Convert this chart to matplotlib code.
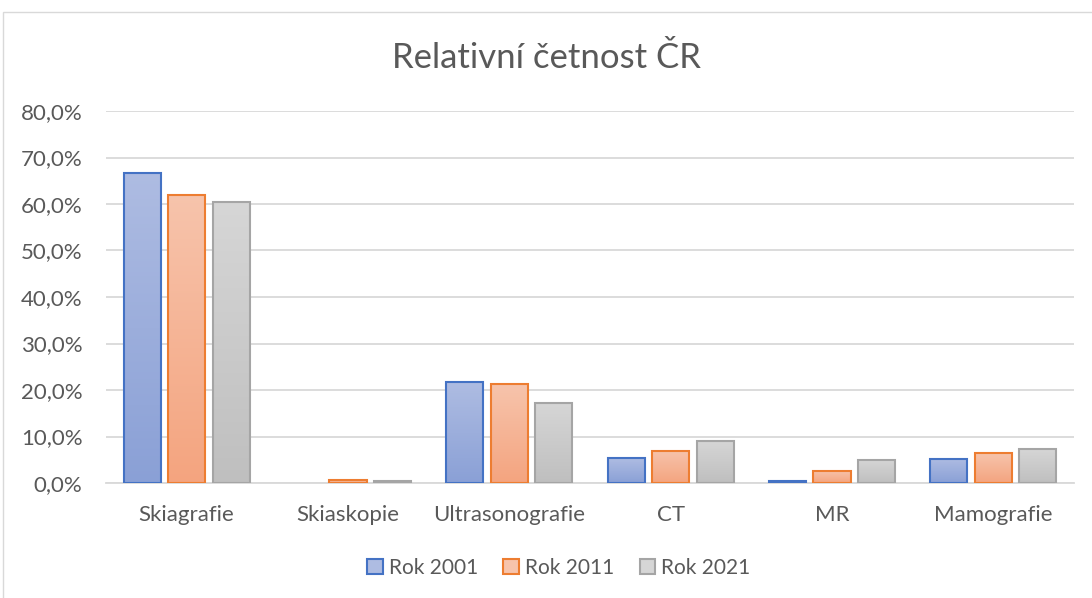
import numpy as np
import matplotlib
matplotlib.use("Agg")
import matplotlib.pyplot as plt
from matplotlib.patches import Rectangle
from matplotlib.colors import LinearSegmentedColormap
from matplotlib.ticker import FuncFormatter, MultipleLocator

categories = ["Skiagrafie", "Skiaskopie", "Ultrasonografie", "CT", "MR", "Mamografie"]
series_names = ["Rok 2001", "Rok 2011", "Rok 2021"]
rok_2001 = [66.7, 0.0, 21.7, 5.3, 0.5, 5.2]
rok_2011 = [62.0, 0.6, 21.2, 6.9, 2.6, 6.4]
rok_2021 = [60.4, 0.4, 17.2, 9.1, 5.0, 7.3]

edge_colors = ["#4472C4", "#ED7D31", "#A5A5A5"]
top_colors = ["#AEBCE2", "#F7C4AC", "#D6D6D6"]
bot_colors = ["#8AA0D6", "#F4A47F", "#BFBFBF"]

plt.rcParams['font.family'] = ['Lato', 'DejaVu Sans']

fig = plt.figure(figsize=(10.92, 5.98), dpi=100)
# chart frame
fig.patches.append(Rectangle((3/1092, -0.05), 1.2, 1 - 12/598 + 0.05,
                             transform=fig.transFigure, fill=False,
                             edgecolor="#D9D9D9", linewidth=1.0))

ax = fig.add_axes([106/1092, 1 - 483/598, 968/1092, 372/598])

x = np.arange(len(categories))
width = 0.23
step = 0.276
data = [rok_2001, rok_2011, rok_2021]

grad = np.linspace(0, 1, 256).reshape(-1, 1)
for i, vals in enumerate(data):
    cmap = LinearSegmentedColormap.from_list(f"g{i}", [bot_colors[i], top_colors[i]])
    pos = x + (i - 1) * step
    bars = ax.bar(pos, vals, width, color="none", edgecolor=edge_colors[i],
                  linewidth=1.5, zorder=3, label=series_names[i])
    for b in bars:
        h = b.get_height()
        if h <= 0:
            b.set_visible(False)
            continue
        im = ax.imshow(grad, extent=[b.get_x(), b.get_x() + b.get_width(), 0, h],
                       origin="lower", cmap=cmap, aspect="auto", zorder=2)
        im.set_clip_path(b)

ax.set_xlim(-0.5, len(categories) - 0.5)
ax.set_ylim(0, 80)

ax.yaxis.set_major_locator(MultipleLocator(10))
ax.yaxis.set_major_formatter(FuncFormatter(lambda v, p: f"{v:.1f}%".replace(".", ",")))
ax.grid(axis="y", color="#D9D9D9", linewidth=1.3, zorder=0)
ax.set_axisbelow(True)
for s in ["top", "right", "left"]:
    ax.spines[s].set_visible(False)
ax.spines["bottom"].set_color("#D9D9D9")
ax.spines["bottom"].set_linewidth(1.3)
ax.tick_params(axis="both", length=0, colors="#595959", labelsize=16)
ax.tick_params(axis="y", pad=17)
ax.tick_params(axis="x", pad=16)
ax.set_xticks(x)
ax.set_xticklabels(categories)

fig.text(0.5, 1 - 58/598, "Relativní četnost ČR", ha="center", va="center",
         fontsize=25, color="#595959")

handles = [Rectangle((0, 0), 1, 1, facecolor=(top_colors[i]), edgecolor=edge_colors[i],
                     linewidth=1.5) for i in range(3)]
fig.legend(handles, series_names, loc="center", bbox_to_anchor=(559/1092, 1 - 568/598),
           ncol=3, frameon=False, fontsize=15, labelcolor="#595959",
           handlelength=0.75, handleheight=0.75, handletextpad=0.3, columnspacing=1.2)

fig.savefig("out.png", dpi=100)
